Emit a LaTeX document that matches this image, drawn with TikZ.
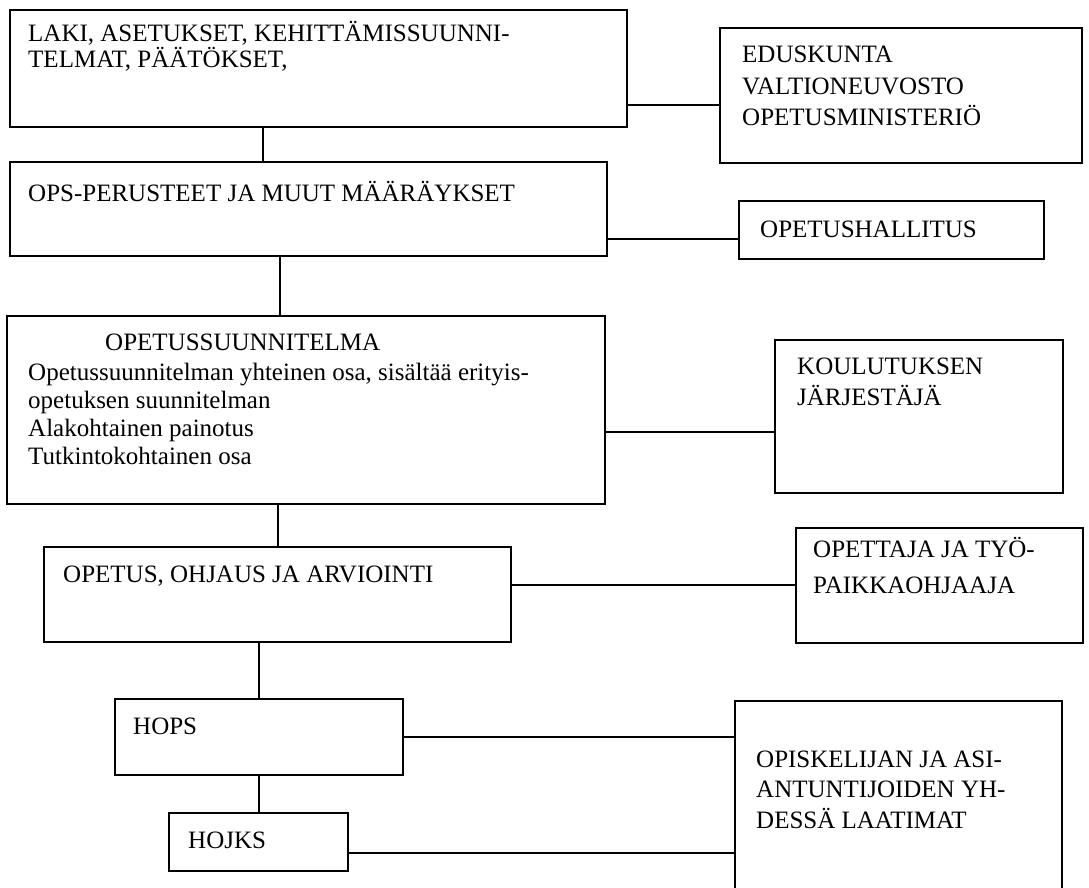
\documentclass[tikz,border=0pt]{standalone}
\usepackage{fontspec}
\setmainfont{Liberation Serif}
\begin{document}
\begin{tikzpicture}[x=1pt,y=-1pt,
  box/.style={draw, line width=1.7pt, inner sep=0pt, rectangle},
  lbl/.style={anchor=base west, inner sep=0pt, align=left},
  link/.style={line width=1.5pt}]
\useasboundingbox (0,0) rectangle (1089,888);
% left column boxes
\node[box, minimum width=617pt, minimum height=117pt] (lak) at (318.5,68.5) {};
\node[box, minimum width=597pt, minimum height=94pt] (ops) at (308.5,209) {};
\node[box, minimum width=598pt, minimum height=188pt] (opsu) at (306,410) {};
\node[box, minimum width=467pt, minimum height=95pt] (ope) at (277.5,594.5) {};
\node[box, minimum width=288pt, minimum height=76pt] (hops) at (259,737) {};
\node[box, minimum width=179pt, minimum height=58pt] (hojks) at (258.5,842) {};
% right column boxes
\node[box, minimum width=362pt, minimum height=135pt] (edu) at (901,95.5) {};
\node[box, minimum width=305pt, minimum height=58pt] (oph) at (891.5,230) {};
\node[box, minimum width=288pt, minimum height=153pt] (kou) at (919,416.5) {};
\node[box, minimum width=287pt, minimum height=115pt] (opt) at (939.5,585.5) {};
\node[box, minimum width=327pt, minimum height=199pt] (opi) at (898.5,800.5) {};
% texts (multi-line texts are placed by the baseline of their last line)
\node[lbl, font=\fontsize{25}{25.5}\selectfont] (tlak) at (28,67.5) {LAKI, ASETUKSET, KEHITTÄMISSUUNNI-\\TELMAT, PÄÄTÖKSET,};
\node[lbl, font=\fontsize{25}{30}\selectfont] (tops) at (28,201) {OPS-PERUSTEET JA MUUT MÄÄRÄYKSET};
\node[lbl, font=\fontsize{25}{30}\selectfont] (topsu1) at (105,350) {OPETUSSUUNNITELMA};
\node[lbl, font=\fontsize{25}{28.3}\selectfont] (topsu2) at (28,464.9) {Opetussuunnitelman yhteinen osa, sisältää erityis-\\opetuksen suunnitelman\\Alakohtainen painotus\\Tutkintokohtainen osa};
\node[lbl, font=\fontsize{25}{30}\selectfont] (tope) at (63,582) {OPETUS, OHJAUS JA ARVIOINTI};
\node[lbl, font=\fontsize{25}{30}\selectfont] (thops) at (133,734) {HOPS};
\node[lbl, font=\fontsize{25}{30}\selectfont] (thojks) at (188,848) {HOJKS};
\node[lbl, font=\fontsize{25}{31.5}\selectfont] (tedu) at (742,126) {EDUSKUNTA\\VALTIONEUVOSTO\\OPETUSMINISTERIÖ};
\node[lbl, font=\fontsize{25}{30}\selectfont] (toph) at (760,237) {OPETUSHALLITUS};
\node[lbl, font=\fontsize{25}{31}\selectfont] (tkou) at (797,405) {KOULUTUKSEN\\JÄRJESTÄJÄ};
\node[lbl, font=\fontsize{25}{36}\selectfont] (topt) at (813,593) {OPETTAJA JA TYÖ-\\PAIKKAOHJAAJA};
\node[lbl, font=\fontsize{25}{30.5}\selectfont] (topi) at (756,828) {OPISKELIJAN JA ASI-\\ANTUNTIJOIDEN YH-\\DESSÄ LAATIMAT};
% vertical connectors
\draw[link] (263,0 |- lak.south) -- (263,0 |- ops.north);
\draw[link] (280,0 |- ops.south) -- (280,0 |- opsu.north);
\draw[link] (278,0 |- opsu.south) -- (278,0 |- ope.north);
\draw[link] (259,0 |- ope.south) -- (259,0 |- hops.north);
\draw[link] (259,0 |- hops.south) -- (259,0 |- hojks.north);
% horizontal connectors
\draw[link] (lak.east |- 0,105) -- (edu.west |- 0,105);
\draw[link] (ops.east |- 0,239) -- (oph.west |- 0,239);
\draw[link] (opsu.east |- 0,432) -- (kou.west |- 0,432);
\draw[link] (ope.east |- 0,585) -- (opt.west |- 0,585);
\draw[link] (hops.east |- 0,737) -- (opi.west |- 0,737);
\draw[link] (hojks.east |- 0,853) -- (opi.west |- 0,853);
\end{tikzpicture}
\end{document}
